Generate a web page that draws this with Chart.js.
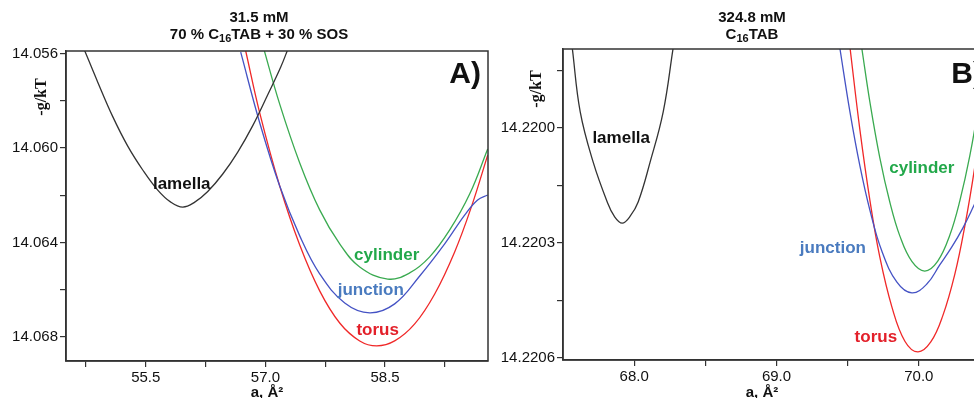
<!DOCTYPE html>
<html>
<head>
<meta charset="utf-8">
<script src="https://cdn.jsdelivr.net/npm/chart.js@4.4.1/dist/chart.umd.min.js"></script>
<style>
  html, body { margin: 0; padding: 0; background: #fff; overflow: hidden; }
  #wrap { position: relative; width: 974px; height: 398px; overflow: hidden; }
  #chartA { position: absolute; left: 0; top: 0; }
  #chartB { position: absolute; left: 490px; top: 0; }
</style>
</head>
<body>
<div id="wrap">
  <canvas id="chartA" width="490" height="398"></canvas>
  <canvas id="chartB" width="500" height="398"></canvas>
</div>
<script>
// ---- panel A : 31.5 mM, 70 % C16TAB + 30 % SOS ----
const lamellaA = [[54.685,14.05547],[54.736,14.05589],[54.898,14.05721],[55.086,14.05867],[55.274,14.05992],
  [55.462,14.06093],[55.650,14.06178],[55.813,14.06229],[55.964,14.06250],[56.114,14.06229],[56.277,14.06184],
  [56.465,14.06110],[56.653,14.06017],[56.841,14.05905],[57.029,14.05774],[57.192,14.05657],[57.292,14.05572]];
const cylinderA = [[56.966,14.05564],[57.179,14.05814],[57.430,14.06063],[57.680,14.06262],[57.931,14.06406],
  [58.182,14.06504],[58.533,14.06555],[58.808,14.06529],[59.059,14.06461],[59.310,14.06347],[59.560,14.06195],
  [59.786,14.06004]];
const junctionA = [[56.690,14.05594],[56.929,14.05894],[57.179,14.06161],[57.430,14.06372],[57.680,14.06533],
  [57.994,14.06656],[58.307,14.06698],[58.620,14.06660],[58.934,14.06542],[59.247,14.06406],[59.497,14.06284],
  [59.660,14.06220],[59.786,14.06199]];
const torusA = [[56.753,14.05589],[56.929,14.05852],[57.179,14.06161],[57.430,14.06411],[57.680,14.06605],
  [57.931,14.06741],[58.182,14.06817],[58.395,14.06838],[58.620,14.06817],[58.871,14.06745],[59.122,14.06618],
  [59.372,14.06440],[59.585,14.06246],[59.786,14.06030]];

const xTicksA = [54.75, 55.5, 56.25, 57.0, 57.75, 58.5, 59.25];
const xLabelsA = ['', '55.5', '', '57.0', '', '58.5', ''];
const yTicksA = [14.056, 14.058, 14.060, 14.062, 14.064, 14.066, 14.068];
const yLabelsA = ['14.056', '', '14.060', '', '14.064', '', '14.068'];

// ---- panel B : 324.8 mM, C16TAB ----
const lamellaB = [[67.565,14.219791],[67.621,14.219958],[67.712,14.220089],[67.811,14.220193],[67.860,14.220230],
  [67.916,14.220248],[67.972,14.220230],[68.028,14.220193],[68.112,14.220089],[68.204,14.219958],[68.274,14.219791]];
const cylinderB = [[69.600,14.219794],[69.656,14.219932],[69.726,14.220078],[69.796,14.220193],[69.867,14.220282],
  [69.951,14.220348],[70.042,14.220373],[70.133,14.220347],[70.218,14.220279],[70.288,14.220190],
  [70.358,14.220073],[70.428,14.219924],[70.484,14.219783]];
const junctionB = [[69.446,14.219794],[69.516,14.219958],[69.586,14.220099],[69.656,14.220214],[69.740,14.220321],
  [69.846,14.220402],[69.951,14.220430],[70.056,14.220407],[70.147,14.220357],[70.232,14.220310],
  [70.309,14.220261],[70.386,14.220203],[70.498,14.220115]];
const torusB = [[69.516,14.219789],[69.586,14.220005],[69.656,14.220188],[69.726,14.220337],[69.811,14.220467],
  [69.902,14.220556],[69.993,14.220584],[70.084,14.220558],[70.168,14.220490],[70.253,14.220381],
  [70.323,14.220256],[70.393,14.220102],[70.463,14.219917]];

const xTicksB = [68.0, 68.5, 69.0, 69.5, 70.0];
const xLabelsB = ['68.0', '', '69.0', '', '70.0'];
const yTicksB = [14.21985, 14.2200, 14.22015, 14.2203, 14.22045, 14.2206];
const yLabelsB = ['', '14.2200', '', '14.2203', '', '14.2206'];

// curve name labels, placed in data units
const curveLabelsA = [
  { text: 'lamella', x: 55.951, y: 14.06152, color: '#111111' },
  { text: 'cylinder', x: 58.520, y: 14.06453, color: '#22a84a' },
  { text: 'junction', x: 58.320, y: 14.06601, color: '#4a7bbf' },
  { text: 'torus', x: 58.407, y: 14.06770, color: '#e3202a' }
];
const curveLabelsB = [
  { text: 'lamella', x: 67.909, y: 14.220026, color: '#111111' },
  { text: 'cylinder', x: 70.021, y: 14.220104, color: '#22a84a' },
  { text: 'junction', x: 69.396, y: 14.220313, color: '#4a7bbf' },
  { text: 'torus', x: 69.698, y: 14.220545, color: '#e3202a' }
];

const titleA = [[{ t: '31.5 mM' }], [{ t: '70 % C' }, { t: '16', sub: true }, { t: 'TAB + 30 % SOS' }]];
const titleB = [[{ t: '324.8 mM' }], [{ t: 'C' }, { t: '16', sub: true }, { t: 'TAB' }]];

const SANS = '"Liberation Sans", Arial, sans-serif';
const AXIS = '#333333';
const LINE_COLORS = { lamella: '#333333', cylinder: '#3aaa50', junction: '#4452c4', torus: '#f02828' };

// texte com subscrito (C16)
function drawRich(ctx, parts, cx, y, size) {
  const big = 'bold ' + size + 'px ' + SANS;
  const small = 'bold ' + Math.round(size * 0.72) + 'px ' + SANS;
  let w = 0;
  parts.forEach(p => { ctx.font = p.sub ? small : big; w += ctx.measureText(p.t).width; });
  let x = cx - w / 2;
  ctx.textAlign = 'left';
  ctx.textBaseline = 'middle';
  parts.forEach(p => {
    ctx.font = p.sub ? small : big;
    ctx.fillText(p.t, x, p.sub ? y + 4 : y);
    x += ctx.measureText(p.t).width;
  });
}

function makeDecor(cfg) {
  return {
    id: 'decor',
    afterDraw(chart) {
      const ctx = chart.ctx;
      const a = chart.chartArea;
      const sx = chart.scales.x, sy = chart.scales.y;
      ctx.save();
      // moldura
      ctx.strokeStyle = AXIS;
      ctx.lineWidth = 1.5;
      ctx.strokeRect(a.left, a.top, a.right - a.left, a.bottom - a.top);

      ctx.fillStyle = '#111';
      drawRich(ctx, cfg.title[0], cfg.titleX, 18, 15);
      drawRich(ctx, cfg.title[1], cfg.titleX, 35, 15);

      // panel letter
      ctx.font = 'bold 30px ' + SANS;
      ctx.textAlign = 'right';
      ctx.textBaseline = 'alphabetic';
      ctx.fillText(cfg.letter, a.right - 7, 83);

      // y title (serif, rotated)
      ctx.save();
      ctx.translate(cfg.yTitleX, cfg.yTitleY);
      ctx.rotate(-Math.PI / 2);
      ctx.font = 'bold 16px "Liberation Serif", "Times New Roman", serif';
      ctx.textAlign = 'center';
      ctx.textBaseline = 'middle';
      ctx.fillText('-g/kT', 0, 0);
      ctx.restore();

      // x title
      ctx.font = 'bold 15px ' + SANS;
      ctx.textAlign = 'center';
      ctx.textBaseline = 'middle';
      ctx.fillText('a, Å²', cfg.xTitleX, 393);

      // curve labels
      ctx.font = 'bold 17px ' + SANS;
      cfg.labels.forEach(l => {
        ctx.fillStyle = l.color;
        ctx.fillText(l.text, sx.getPixelForValue(l.x), sy.getPixelForValue(l.y));
      });
      ctx.restore();
    }
  };
}

function series(name, pts) {
  return {
    label: name,
    data: pts.map(p => ({ x: p[0], y: p[1] })),
    borderColor: LINE_COLORS[name],
    borderWidth: 1.3,
    pointRadius: 0,
    fill: false,
    tension: 0.4
  };
}

function buildChart(id, cfg) {
  return new Chart(document.getElementById(id), {
    type: 'line',
    data: {
      datasets: [
        series('lamella', cfg.lamella),
        series('cylinder', cfg.cylinder),
        series('junction', cfg.junction),
        series('torus', cfg.torus)
      ]
    },
    options: {
      responsive: false,
      animation: false,
      layout: { padding: { top: cfg.top, right: cfg.right, left: 0, bottom: 0 } },
      plugins: { legend: { display: false }, tooltip: { enabled: false } },
      scales: {
        x: {
          type: 'linear',
          min: cfg.xMin, max: cfg.xMax,
          afterBuildTicks: s => { s.ticks = cfg.xTicks.map(v => ({ value: v })); },
          afterFit: s => { s.height = cfg.xAxisH; },
          ticks: {
            autoSkip: false, maxRotation: 0, padding: 2,
            color: '#111', font: { family: SANS, size: 15 },
            callback: (v, i) => cfg.xLabels[i]
          },
          grid: { drawOnChartArea: false, drawTicks: true, tickLength: 6, color: AXIS, lineWidth: 1.2 },
          border: { display: true, color: AXIS, width: 1.5 }
        },
        y: {
          type: 'linear',
          reverse: true,
          min: cfg.yMin, max: cfg.yMax,
          afterBuildTicks: s => { s.ticks = cfg.yTicks.map(v => ({ value: v })); },
          afterFit: s => { s.width = cfg.yAxisW; },
          ticks: {
            autoSkip: false, padding: 2,
            color: '#111', font: { family: SANS, size: 15 },
            callback: (v, i) => cfg.yLabels[i]
          },
          grid: { drawOnChartArea: false, drawTicks: true, tickLength: 6, color: AXIS, lineWidth: 1.2 },
          border: { display: true, color: AXIS, width: 1.5 }
        }
      }
    },
    plugins: [makeDecor(cfg)]
  });
}

buildChart('chartA', {
  lamella: lamellaA, cylinder: cylinderA, junction: junctionA, torus: torusA,
  xMin: 54.5, xMax: 59.79, yMin: 14.05589, yMax: 14.06902,
  xTicks: xTicksA, xLabels: xLabelsA, yTicks: yTicksA, yLabels: yLabelsA,
  top: 51, right: 2, xAxisH: 37, yAxisW: 66,
  title: titleA, titleX: 259, letter: 'A)', yTitleX: 42, yTitleY: 97, xTitleX: 267,
  labels: curveLabelsA
});

buildChart('chartB', {
  lamella: lamellaB, cylinder: cylinderB, junction: junctionB, torus: torusB,
  xMin: 67.5, xMax: 70.5, yMin: 14.219794, yMax: 14.220605,
  xTicks: xTicksB, xLabels: xLabelsB, yTicks: yTicksB, yLabels: yLabelsB,
  top: 49, right: 0, xAxisH: 38, yAxisW: 73,
  title: titleB, titleX: 262, letter: 'B)', yTitleX: 47, yTitleY: 89, xTitleX: 272,
  labels: curveLabelsB
});
</script>
</body>
</html>
